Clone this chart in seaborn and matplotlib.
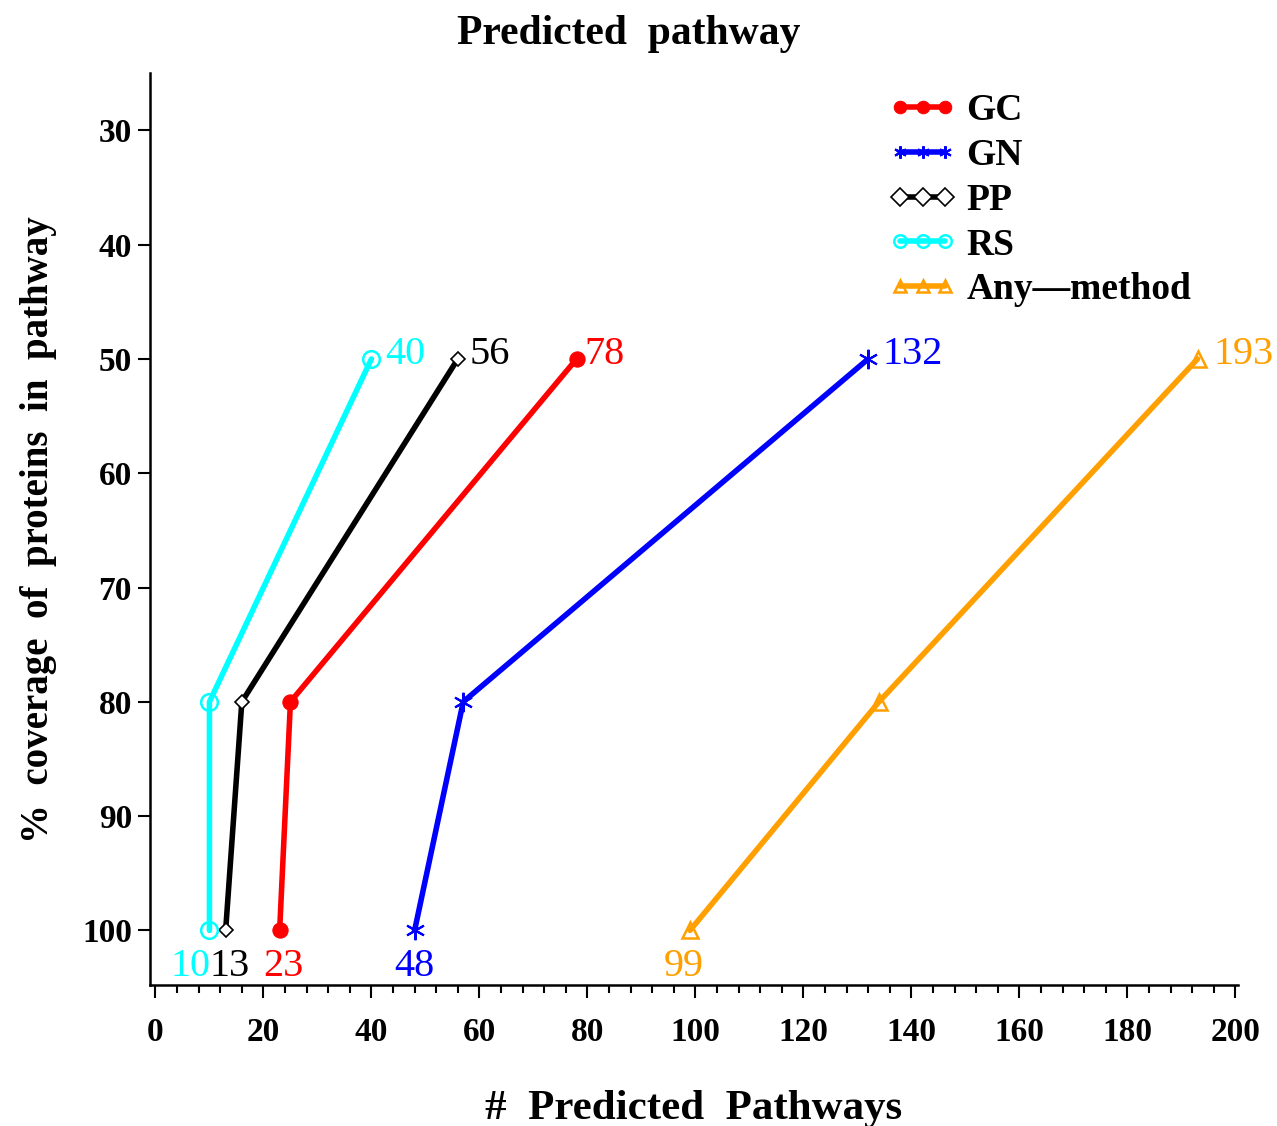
import matplotlib
matplotlib.use('Agg')
import matplotlib.pyplot as plt
import seaborn as sns
from matplotlib.ticker import MultipleLocator

# data
coverage = [100, 80, 50]
methods = ['GC', 'GN', 'PP', 'RS', 'Any\u2014method']
gc_vals = [23, 25, 78]
gn_vals = [48, 57, 132]
pp_vals = [13, 16, 56]
rs_vals = [10, 10, 40]
any_vals = [99, 134, 193]

colors = ['#ff0000', '#0000ff', '#000000', '#00ffff', '#ffa000']
series = [gc_vals, gn_vals, pp_vals, rs_vals, any_vals]

sns.set_style('ticks')
plt.rcParams['font.family'] = ['Liberation Serif', 'DejaVu Serif']
plt.rcParams['text.color'] = 'black'
plt.rcParams['xtick.color'] = 'black'
plt.rcParams['ytick.color'] = 'black'
plt.rcParams['axes.labelcolor'] = 'black'

fig = plt.figure(figsize=(12.77, 11.26), dpi=100)
ax = fig.add_axes([0.1175, 0.125, 0.852, 0.81])

markers = [dict(marker='o', markersize=11, markerfacecolor=colors[0], markeredgecolor=colors[0]),
           dict(marker=(6, 2, 0), markersize=14, markeredgewidth=1.5, markeredgecolor=colors[1]),
           dict(marker='D', markersize=7, markerfacecolor='white', markeredgecolor='black', markeredgewidth=1.2),
           dict(marker='o', markersize=12, markerfacecolor='none', markeredgecolor=colors[3], markeredgewidth=1.8),
           dict(marker='^', markersize=12, markerfacecolor='none', markeredgecolor=colors[4], markeredgewidth=1.8)]

for name, vals, col, mk in zip(methods, series, colors, markers):
    sns.lineplot(x=vals, y=coverage, ax=ax, color=col, lw=4, sort=False,
                 estimator=None, label=name, **mk)

# value labels at the 50% and 100% points
top_off = [(8, 4), (14, 4), (12, 4), (14, 4), (16, 4)]
bot_off = [(4, -36), (0, -36), (4, -36), (-19, -36), (-6, -36)]
for vals, col, to, bo in zip(series, colors, top_off, bot_off):
    ax.annotate(str(vals[2]), xy=(vals[2], coverage[2]), xytext=to,
                textcoords='offset pixels', ha='left', va='center',
                color=col, fontsize=29)
    ax.annotate(str(vals[0]), xy=(vals[0], coverage[0]), xytext=bo,
                textcoords='offset pixels', ha='center', va='center',
                color=col, fontsize=29)

ax.set_xlim(-1, 200.5)
ax.set_ylim(104.8, 25)
ax.xaxis.set_major_locator(MultipleLocator(20))
ax.xaxis.set_minor_locator(MultipleLocator(4))
ax.set_yticks(range(30, 101, 10))
ax.tick_params(axis='both', which='major', length=9, width=1.5, direction='out',
               labelsize=24)
ax.tick_params(axis='x', which='major', pad=14)
ax.tick_params(axis='y', which='major', pad=4)
ax.tick_params(axis='x', which='minor', length=6, width=1.5, direction='out')
for lab in ax.get_xticklabels() + ax.get_yticklabels():
    lab.set_fontweight('bold')
sns.despine(ax=ax)
for sp in ['left', 'bottom']:
    ax.spines[sp].set_linewidth(1.8)
    ax.spines[sp].set_color('black')

ax.set_xlabel('#  Predicted  Pathways', fontsize=31, fontweight='bold', labelpad=30)
ax.set_ylabel('%  coverage  of  proteins  in  pathway', fontsize=28, fontweight='bold', labelpad=18)
fig.suptitle('Predicted  pathway', fontsize=30, fontweight='bold', y=0.987, x=0.492)

leg = ax.legend(loc='upper left', bbox_to_anchor=(0.648, 1.015), frameon=False,
                numpoints=3, handlelength=1.8, handletextpad=0.27, labelspacing=0.26,
                prop={'size': 27, 'weight': 'bold'})
for h in leg.get_lines():
    h.set_linewidth(4)
    h.set_markersize(9)

fig.savefig('out.png', dpi=100)
